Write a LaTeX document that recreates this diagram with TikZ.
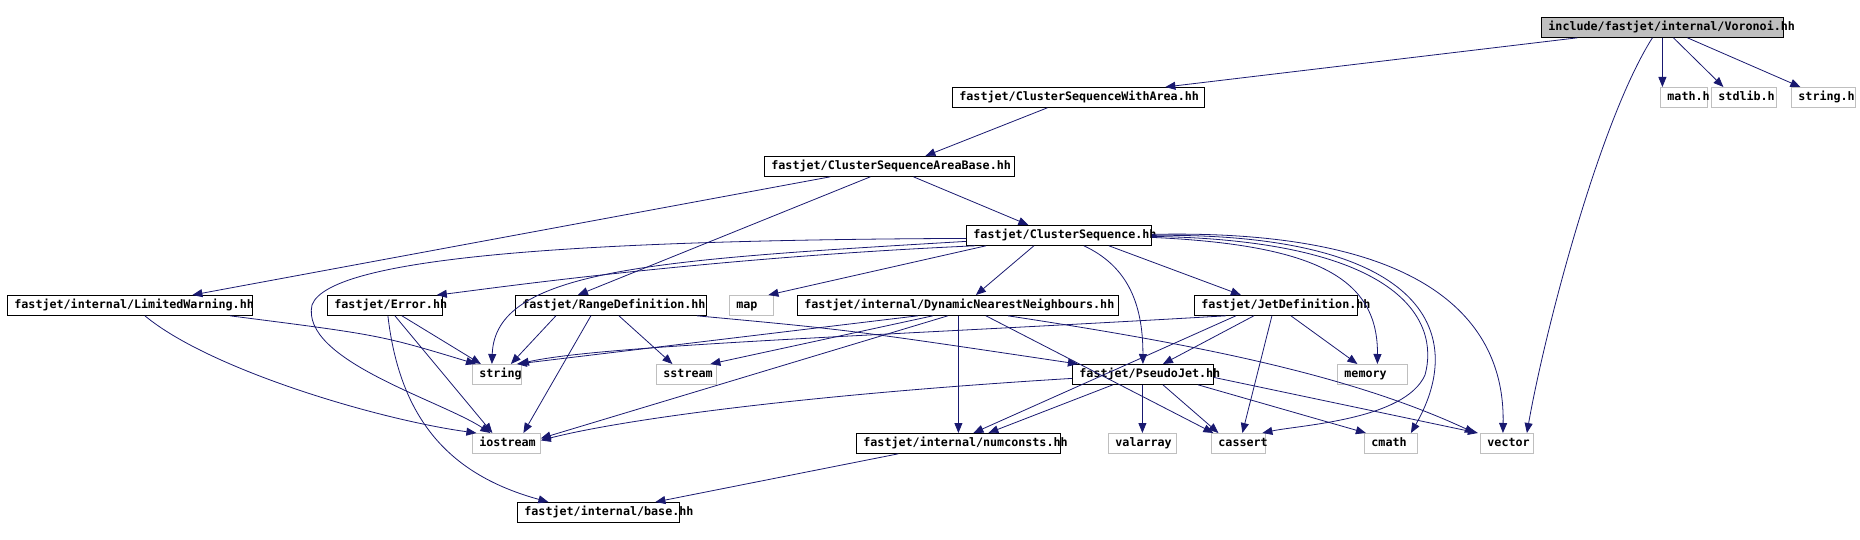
\documentclass[tikz,border=0pt]{standalone}
\usepackage{fontspec}
\setmonofont{DejaVu Sans Mono}
\usetikzlibrary{arrows.meta}

\definecolor{edgeblue}{HTML}{191970}
\definecolor{sysgray}{HTML}{BFBFBF}

\tikzset{
    hdr/.style={draw=black, line width=0.8pt, text width=#1, align=left,
        inner xsep=7pt, inner ysep=0pt, minimum height=20pt,
        text height=8.5pt, text depth=2.5pt, anchor=north west,
        font=\ttfamily\bfseries\fontsize{11.7}{12}\selectfont},
    syshdr/.style={hdr=#1, draw=sysgray},
    roothdr/.style={hdr=#1, fill=sysgray},
    dep/.style={draw=edgeblue, line width=0.8pt, -{Triangle[length=10pt,width=8pt]}}
}

\begin{document}
\begin{tikzpicture}[x=1pt, y=-1pt]
    \useasboundingbox (0,0) rectangle (1860,540); % page of the graph

    % project headers, placed by their top left corner
    \node[roothdr=228pt] (voronoi) at (1541,17) {include/fastjet/internal/Voronoi.hh};
    \node[hdr=238pt] (cswa) at (952,87) {fastjet/ClusterSequenceWithArea.hh};
    \node[hdr=236pt] (areabase) at (764,156) {fastjet/ClusterSequenceAreaBase.hh};
    \node[hdr=171pt] (cs) at (966,225) {fastjet/ClusterSequence.hh};
    \node[hdr=231pt] (limwarn) at (7,295) {fastjet/internal/LimitedWarning.hh};
    \node[hdr=101pt] (error) at (327,295) {fastjet/Error.hh};
    \node[hdr=177pt] (rangedef) at (515,295) {fastjet/RangeDefinition.hh};
    \node[hdr=307pt] (dnn) at (797,295) {fastjet/internal/DynamicNearestNeighbours.hh};
    \node[hdr=149pt] (jetdef) at (1194,295) {fastjet/JetDefinition.hh};
    \node[hdr=127pt] (pseudojet) at (1072,364) {fastjet/PseudoJet.hh};
    \node[hdr=190pt] (numconsts) at (856,433) {fastjet/internal/numconsts.hh};
    \node[hdr=148pt] (base) at (517,502) {fastjet/internal/base.hh};

    % system headers
    \foreach \id/\txt/\lx/\ty/\tw in {mathh/math.h/1660/87/33, stdlibh/stdlib.h/1711/87/51,
        stringh/string.h/1791/87/50, map/map/729/295/30, string/string/472/364/35,
        sstream/sstream/656/364/46, memory/memory/1337/364/56, iostream/iostream/472/433/54,
        valarray/valarray/1108/433/54, cassert/cassert/1211/433/40, cmath/cmath/1364/433/39,
        vector/vector/1480/433/39}
    {
        \node[syshdr=\tw pt] (\id) at (\lx,\ty) {\txt};
    }

    % Voronoi.hh
    \draw[dep] ([xshift=-85pt]voronoi.south) -- ([xshift=87pt]cswa.north);
    \draw[dep] (voronoi.south) -- ([xshift=-21.5pt]mathh.north);
    \draw[dep] ([xshift=11pt]voronoi.south) -- ([xshift=-20.5pt]stdlibh.north);
    \draw[dep] ([xshift=25pt]voronoi.south) -- ([xshift=-23pt]stringh.north);
    \draw[dep] ([xshift=-10pt]voronoi.south) .. controls (1600,120) and (1545,330) .. ([xshift=20pt]vector.north);

    % ClusterSequenceWithArea.hh and ClusterSequenceAreaBase.hh
    \draw[dep] ([xshift=-31pt]cswa.south) -- ([xshift=36pt]areabase.north);
    \draw[dep] ([xshift=-59pt]areabase.south) -- ([xshift=62.5pt]limwarn.north);
    \draw[dep] ([xshift=-19pt]areabase.south) -- ([xshift=-33pt]rangedef.north);
    \draw[dep] ([xshift=24pt]areabase.south) -- ([xshift=-30.5pt]cs.north);

    % ClusterSequence.hh
    \draw[dep] ([xshift=9pt]cs.south west) .. controls (700,258) and (480,290) .. ([xshift=-6pt]error.north east);
    \draw[dep] ([yshift=-3pt]cs.west) .. controls (600,240) and (330,255) .. (312,305)
        .. controls (300,360) and (440,400) .. ([xshift=-16pt]iostream.north);
    \draw[dep] ([yshift=-6pt]cs.west) .. controls (650,260) and (495,270) .. ([xshift=-5pt]string.north);
    \draw[dep] ([xshift=20pt]cs.south west) -- ([xshift=17pt]map.north);
    \draw[dep] ([xshift=-25pt]cs.south) -- ([xshift=18pt]dnn.north);
    \draw[dep] ([xshift=25pt]cs.south) .. controls (1125,265) and (1143,300) .. (pseudojet.north);
    \draw[dep] ([xshift=50pt]cs.south) -- ([xshift=-35pt]jetdef.north);
    \draw[dep] ([yshift=-2pt]cs.east) .. controls (1320,245) and (1378,280) .. ([xshift=5pt]memory.north);
    \draw[dep] ([yshift=-1pt]cs.east) .. controls (1400,240) and (1440,320) .. (1425,375)
        .. controls (1405,420) and (1300,425) .. ([xshift=24pt]cassert.north);
    \draw[dep] (cs.east) .. controls (1420,232) and (1470,330) .. ([xshift=20pt]cmath.north);
    \draw[dep] ([yshift=1pt]cs.east) .. controls (1440,228) and (1505,330) .. ([xshift=-4pt]vector.north);

    % LimitedWarning.hh and Error.hh
    \draw[dep] ([xshift=100pt]limwarn.south) .. controls (380,335) .. ([xshift=4pt]string.north west);
    \draw[dep] ([xshift=15pt]limwarn.south) .. controls (210,370) and (380,420) .. ([xshift=-30pt]iostream.north);
    \draw[dep] ([xshift=17pt]error.south) -- ([xshift=-16pt]string.north);
    \draw[dep] ([xshift=10pt]error.south) -- ([xshift=-14pt]iostream.north);
    \draw[dep] ([xshift=3pt]error.south) .. controls (400,420) and (450,475) .. ([xshift=-50pt]base.north);

    % RangeDefinition.hh
    \draw[dep] ([xshift=-55pt]rangedef.south) -- ([xshift=14pt]string.north);
    \draw[dep] ([xshift=8pt]rangedef.south) -- ([xshift=-14pt]sstream.north);
    \draw[dep] ([xshift=-20pt]rangedef.south) -- ([xshift=17pt]iostream.north);
    \draw[dep] ([xshift=-10pt]rangedef.south east) .. controls (850,330) .. ([xshift=-65pt]pseudojet.north);

    % DynamicNearestNeighbours.hh
    \draw[dep] ([xshift=-40pt]dnn.south) -- ([xshift=20pt]string.north);
    \draw[dep] ([xshift=-25pt]dnn.south) -- ([xshift=24pt]sstream.north);
    \draw[dep] ([xshift=-10pt]dnn.south) -- ([yshift=5pt]iostream.east);
    \draw[dep] ([xshift=0.5pt]dnn.south) -- (numconsts.north);
    \draw[dep] ([xshift=28pt]dnn.south) -- ([xshift=-25pt]cassert.north);
    \draw[dep] ([xshift=50pt]dnn.south) .. controls (1200,345) and (1350,375) .. ([xshift=-32pt]vector.north);

    % JetDefinition.hh
    \draw[dep] ([xshift=-50pt]jetdef.south) .. controls (900,335) and (600,345) .. ([xshift=22pt]string.north);
    \draw[dep] ([xshift=-22pt]jetdef.south) -- ([xshift=20pt]pseudojet.north);
    \draw[dep] ([xshift=-40pt]jetdef.south) -- ([xshift=15pt]numconsts.north);
    \draw[dep] ([xshift=-4pt]jetdef.south) -- ([xshift=4pt]cassert.north);
    \draw[dep] ([xshift=15pt]jetdef.south) -- ([xshift=-15pt]memory.north);

    % PseudoJet.hh and numconsts.hh
    \draw[dep] ([yshift=-4pt]pseudojet.west) .. controls (800,395) and (620,420) .. ([yshift=3pt]iostream.east);
    \draw[dep] ([xshift=-30pt]pseudojet.south) -- ([xshift=30pt]numconsts.north);
    \draw[dep] ([xshift=-0.5pt]pseudojet.south) -- (valarray.north);
    \draw[dep] ([xshift=20pt]pseudojet.south) -- ([xshift=-20pt]cassert.north);
    \draw[dep] ([xshift=55pt]pseudojet.south) -- ([xshift=-25pt]cmath.north);
    \draw[dep] ([yshift=-3pt]pseudojet.east) -- ([xshift=-29pt]vector.north);
    \draw[dep] ([xshift=-60pt]numconsts.south) -- ([xshift=57pt]base.north);
\end{tikzpicture}
\end{document}
